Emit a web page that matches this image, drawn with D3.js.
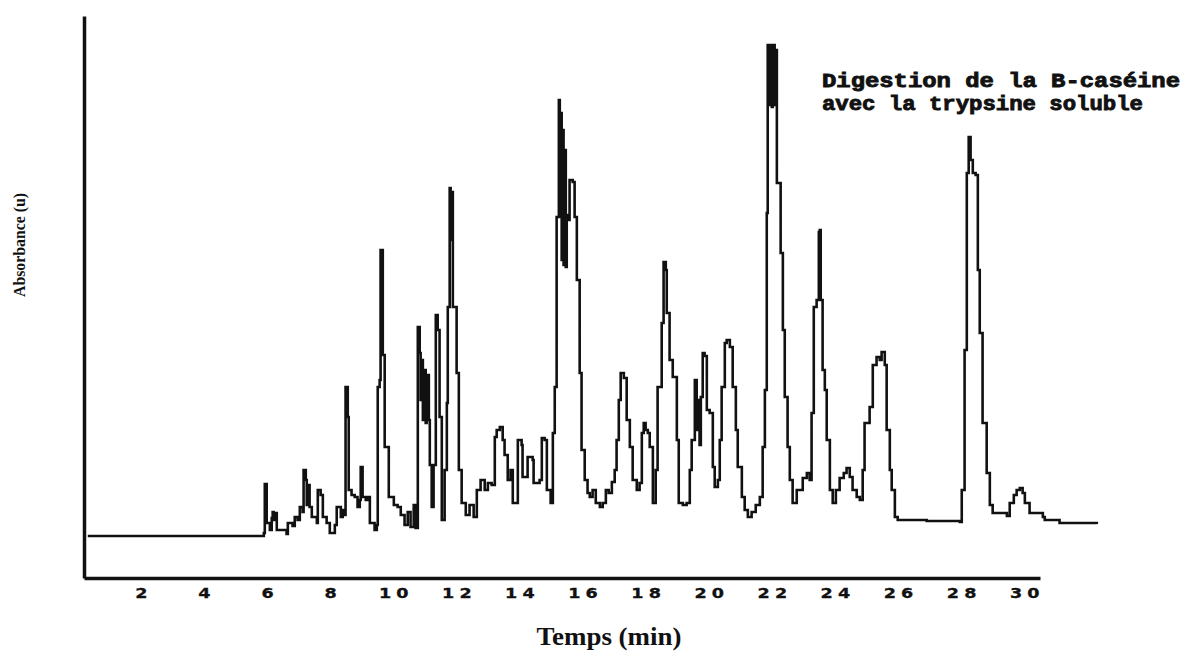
<!DOCTYPE html>
<html>
<head>
<meta charset="utf-8">
<script src="https://cdn.jsdelivr.net/npm/d3@7"></script>
<style>
  html, body { margin: 0; padding: 0; background: #fff; }
  svg { display: block; }
</style>
</head>
<body>
<svg id="chart" width="1182" height="654"></svg>
<script>
// ---- Data ----
const timeMin = [0.32,5.83,5.90,5.93,5.96,5.99,6.05,6.09,6.15,6.18,6.21,6.28,6.31,6.62,6.66,6.81,6.88,6.97,7.04,7.13,7.16,7.23,7.26,7.32,7.35,7.42,7.58,7.61,7.70,7.77,7.89,7.99,8.15,8.21,8.34,8.40,8.46,8.49,8.56,8.59,8.68,8.78,8.87,8.94,8.97,9.03,9.13,9.19,9.26,9.41,9.48,9.51,9.57,9.60,9.67,9.73,9.83,9.86,10.02,10.14,10.24,10.36,10.46,10.55,10.65,10.71,10.78,10.84,10.87,10.90,10.94,10.97,11.03,11.06,11.13,11.16,11.22,11.28,11.35,11.41,11.47,11.54,11.63,11.70,11.73,11.79,11.82,11.85,11.89,11.98,12.01,12.08,12.17,12.30,12.42,12.55,12.65,12.77,12.90,13.00,13.12,13.22,13.28,13.38,13.47,13.53,13.63,13.72,13.79,13.91,13.95,14.07,14.10,14.23,14.26,14.42,14.45,14.64,14.71,14.80,14.87,14.99,15.06,15.12,15.18,15.25,15.28,15.31,15.34,15.37,15.40,15.44,15.47,15.50,15.56,15.59,15.69,15.75,15.82,15.91,15.97,16.07,16.16,16.23,16.32,16.42,16.55,16.64,16.74,16.83,16.93,17.02,17.08,17.15,17.21,17.31,17.40,17.50,17.59,17.72,17.81,17.88,17.94,18.00,18.07,18.13,18.23,18.32,18.38,18.51,18.57,18.64,18.67,18.76,18.86,18.99,19.05,19.18,19.30,19.40,19.46,19.56,19.62,19.65,19.71,19.75,19.81,19.87,19.94,20.03,20.13,20.19,20.29,20.35,20.41,20.51,20.57,20.67,20.76,20.86,20.92,21.05,21.14,21.24,21.36,21.49,21.62,21.71,21.78,21.84,21.87,21.93,21.97,22.00,22.03,22.09,22.12,22.16,22.25,22.28,22.35,22.41,22.50,22.57,22.66,22.79,22.88,22.98,23.11,23.20,23.26,23.33,23.42,23.49,23.52,23.55,23.61,23.68,23.74,23.84,23.93,24.03,24.15,24.28,24.37,24.47,24.56,24.69,24.79,24.88,24.94,25.10,25.20,25.32,25.42,25.48,25.58,25.64,25.74,25.80,25.90,25.99,26.91,27.96,28.02,28.11,28.18,28.24,28.30,28.37,28.46,28.53,28.59,28.68,28.81,28.91,29.00,29.45,29.54,29.67,29.76,29.86,29.95,30.02,30.17,30.59,30.65,31.12,32.30];
const absorbance = [4.2,4.2,4.5,9.4,9.4,5.5,5.5,4.8,6.0,6.6,5.8,6.5,4.8,4.4,5.5,5.2,6.1,5.8,7.1,6.6,10.8,9.8,7.3,9.3,7.1,6.1,5.5,8.8,8.3,6.1,5.5,4.5,5.3,7.1,6.1,6.8,6.3,19.1,16.1,8.8,8.3,8.1,7.1,7.8,11.1,8.1,7.8,8.1,5.5,4.8,5.3,19.1,19.8,32.8,22.3,13.1,13.1,8.1,7.3,7.1,6.3,5.3,6.6,5.1,7.3,5.0,25.1,22.5,17.8,21.8,15.8,20.8,15.5,20.3,15.8,11.3,7.1,11.3,26.3,24.8,16.1,5.8,10.8,17.5,27.1,39.0,33.8,38.6,27.1,27.1,20.5,10.8,7.5,6.3,7.3,6.1,8.8,9.8,8.8,9.5,9.3,14.1,14.8,15.1,13.8,12.3,9.8,10.8,7.5,7.5,13.8,13.3,10.1,10.1,12.1,11.8,9.5,9.8,14.0,13.8,8.8,7.5,14.5,19.1,36.1,47.8,36.1,46.5,31.8,44.8,31.3,42.8,31.1,36.3,35.8,39.8,39.6,36.1,29.8,20.5,12.8,9.8,8.5,8.1,8.8,7.5,7.1,7.5,8.8,8.5,9.6,10.8,13.8,17.8,20.5,20.0,15.8,13.1,9.8,8.8,9.5,14.5,15.5,14.8,14.5,13.1,7.5,10.8,19.1,25.5,31.6,30.8,26.5,21.8,20.1,13.8,7.5,7.3,7.5,10.8,13.8,19.8,14.8,17.8,13.3,18.1,22.5,22.2,16.8,16.5,11.1,9.1,9.8,13.8,19.1,23.5,23.8,23.1,19.1,14.8,11.1,8.1,6.8,6.1,6.6,7.3,8.1,13.1,18.8,36.5,53.3,47.3,53.3,47.1,53.3,47.3,52.8,39.5,39.5,32.5,24.8,18.1,13.1,9.8,7.5,8.8,8.8,10.0,10.5,9.8,16.5,27.1,27.8,34.6,34.8,27.8,20.8,18.8,13.8,8.8,7.5,8.8,10.0,10.5,11.0,10.1,8.8,8.1,7.8,10.8,15.5,17.1,21.3,22.1,21.8,22.6,21.3,14.8,10.8,8.8,6.1,5.8,5.7,5.6,8.8,22.8,40.5,44.1,41.8,40.5,40.3,30.8,24.5,15.5,10.5,7.3,6.5,6.2,7.5,8.3,8.8,9.0,8.5,7.5,6.5,6.1,5.8,5.5,5.4];
const tickValues = [2,4,6,8,10,12,14,16,18,20,22,24,26,28,30];
const tickLabels = ["2","4","6","8","10","12","14","16","18","20","22","24","26","28","30"];
const titleLines = ["Digestion de la B-caséine", "avec la trypsine soluble"];
const xTitle = "Temps (min)";
const yTitle = "Absorbance (u)";
const xDomain = [0.2, 30.5];
const yDomain = [0, 56.2];

// ---- Layout ----
const svg = d3.select("#chart");
const x = d3.scaleLinear().domain(xDomain).range([84, 1040]);
const y = d3.scaleLinear().domain(yDomain).range([578, 16]);

const points = timeMin.map((t, i) => [t, absorbance[i]]);

// trace
svg.append("path")
  .datum(points)
  .attr("fill", "none")
  .attr("stroke", "#111")
  .attr("stroke-width", 2.6)
  .attr("stroke-linejoin", "miter")
  .attr("d", d3.line().x(d => x(d[0])).y(d => y(d[1])).curve(d3.curveStepAfter));

// x axis
const xAxis = svg.append("g")
  .attr("transform", `translate(0,${y(yDomain[0])})`)
  .call(d3.axisBottom(x).tickValues(tickValues)
        .tickFormat((d, i) => tickLabels[i]).tickSize(0).tickSizeOuter(0).tickPadding(0));
xAxis.select(".domain").attr("stroke", "#111").attr("stroke-width", 3.5);
xAxis.selectAll("text")
  .attr("y", null).attr("dy", null)
  .attr("transform", "translate(0,20) scale(1.3,1.05)")
  .attr("font-family", "'DejaVu Sans', sans-serif")
  .attr("font-weight", "bold")
  .attr("font-size", 13.5)
  .attr("letter-spacing", "4px")
  .attr("dx", "2px")
  .attr("stroke", "#111")
  .attr("stroke-width", 0.3)
  .attr("fill", "#111");

// y axis
const yAxis = svg.append("g")
  .attr("transform", `translate(${x(xDomain[0])},0)`)
  .call(d3.axisLeft(y).tickValues([]).tickSizeOuter(0));
yAxis.select(".domain").attr("stroke", "#111").attr("stroke-width", 3.5);

// axis titles
svg.append("text")
  .attr("x", 609).attr("y", 645)
  .attr("text-anchor", "middle")
  .attr("font-family", "'Liberation Serif', serif")
  .attr("font-weight", "bold")
  .attr("font-size", 25)
  .attr("textLength", 145)
  .attr("lengthAdjust", "spacingAndGlyphs")
  .attr("fill", "#111")
  .text(xTitle);

svg.append("text")
  .attr("transform", "translate(25,245) rotate(-90)")
  .attr("text-anchor", "middle")
  .attr("font-family", "'Liberation Serif', serif")
  .attr("font-weight", "bold")
  .attr("font-size", 17)
  .attr("textLength", 104)
  .attr("lengthAdjust", "spacingAndGlyphs")
  .attr("fill", "#111")
  .text(yTitle);

// annotation
const lens = [358, 321];
svg.append("g").selectAll("text")
  .data(titleLines)
  .join("text")
  .attr("x", 822)
  .attr("y", (d, i) => 87 + i * 23)
  .attr("font-family", "'Liberation Mono', monospace")
  .attr("font-weight", "bold")
  .attr("font-size", 21)
  .attr("textLength", (d, i) => lens[i])
  .attr("lengthAdjust", "spacingAndGlyphs")
  .attr("stroke", "#111")
  .attr("stroke-width", 0.9)
  .attr("fill", "#111")
  .text(d => d);
</script>
</body>
</html>
